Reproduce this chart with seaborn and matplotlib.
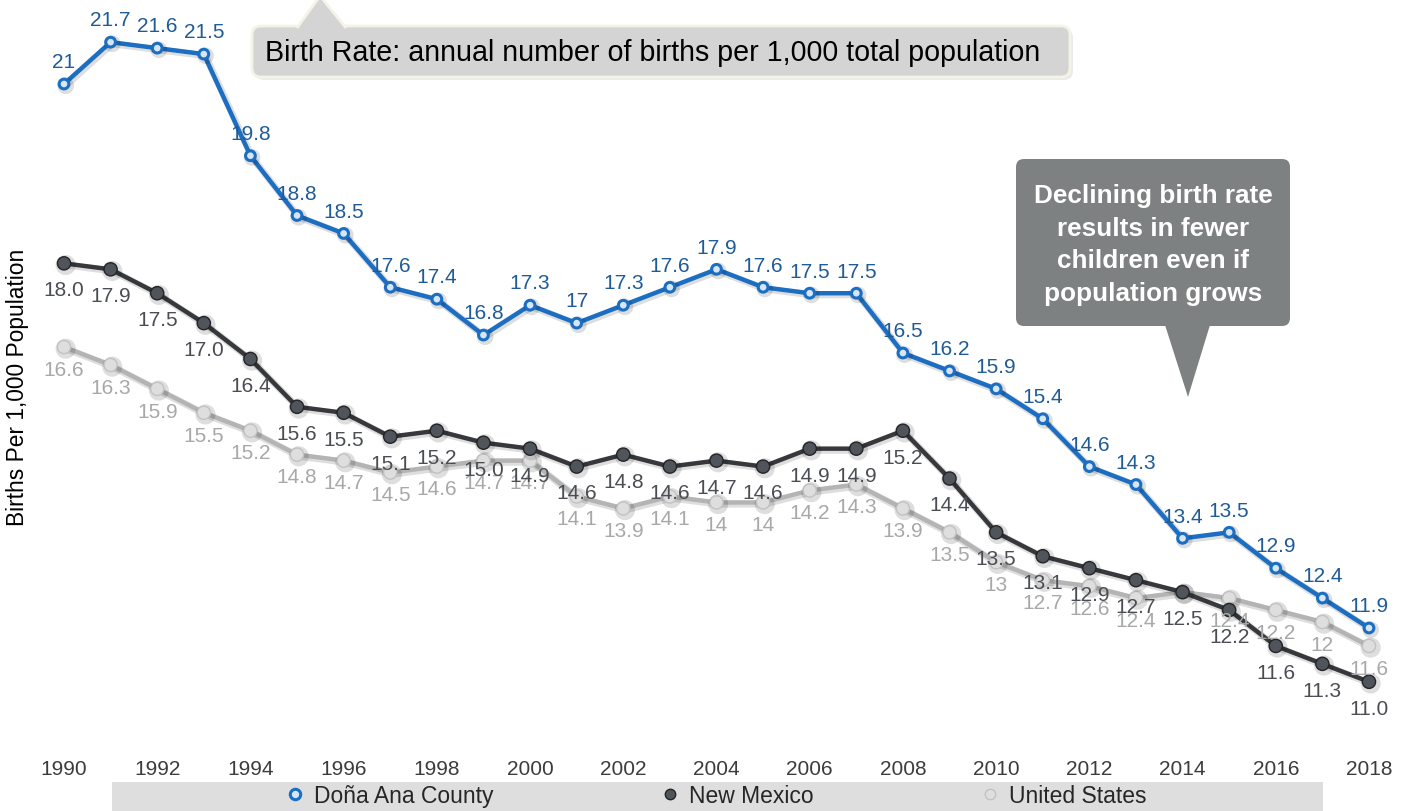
import matplotlib
matplotlib.use("Agg")
import matplotlib.pyplot as plt
import matplotlib.patheffects as pe
from matplotlib.patches import FancyBboxPatch, Polygon, Rectangle
from matplotlib.lines import Line2D
import numpy as np
import pandas as pd
import seaborn as sns

# ---- data -------------------------------------------------------------
years = list(range(1990, 2019))
dona_ana = [21, 21.7, 21.6, 21.5, 19.8, 18.8, 18.5, 17.6, 17.4, 16.8, 17.3, 17,
            17.3, 17.6, 17.9, 17.6, 17.5, 17.5, 16.5, 16.2, 15.9, 15.4, 14.6,
            14.3, 13.4, 13.5, 12.9, 12.4, 11.9]
new_mexico = [18.0, 17.9, 17.5, 17.0, 16.4, 15.6, 15.5, 15.1, 15.2, 15.0, 14.9,
              14.6, 14.8, 14.6, 14.7, 14.6, 14.9, 14.9, 15.2, 14.4, 13.5, 13.1,
              12.9, 12.7, 12.5, 12.2, 11.6, 11.3, 11.0]
united_states = [16.6, 16.3, 15.9, 15.5, 15.2, 14.8, 14.7, 14.5, 14.6, 14.7, 14.7,
                 14.1, 13.9, 14.1, 14, 14, 14.2, 14.3, 13.9, 13.5, 13, 12.7, 12.6,
                 12.4, 12.5, 12.4, 12.2, 12, 11.6]
series_names = ["Doña Ana County", "New Mexico", "United States"]
tick_years = list(range(1990, 2019, 2))
us_unlabeled_years = [2014]

y_title = "Births Per 1,000 Population"
note_top = "Birth Rate: annual number of births per 1,000 total population"
note_side = "Declining birth rate\nresults in fewer\nchildren even if\npopulation grows"

df = pd.DataFrame({
    "year": years * 3,
    "rate": dona_ana + new_mexico + united_states,
    "region": [series_names[0]] * len(years) + [series_names[1]] * len(years)
              + [series_names[2]] * len(years),
})

# ---- styling ----------------------------------------------------------
sns.set_theme(style="white")
plt.rcParams["font.family"] = ["Liberation Sans", "DejaVu Sans"]

W, H = 1414, 812
fig = plt.figure(figsize=(W / 100, H / 100), dpi=100)

# plot area in pixel terms
left_px, right_px, top_px, bottom_px = 40, 1393, 0, 745
ax = fig.add_axes([left_px / W, (H - bottom_px) / H,
                   (right_px - left_px) / W, (bottom_px - top_px) / H])

style = {
    series_names[0]: dict(line="#1b6ec2", mfc="#d6e6f6", mec="#1b6ec2", ms=7.0,
                          mew=2.2, label="#1f5b97", fmt="{:g}", dy=16, z=4),
    series_names[1]: dict(line="#36383c", mfc="#50545b", mec="#222428", ms=9.5,
                          mew=1.0, label="#4a4d53", fmt="{:.1f}", dy=-19, z=3),
    series_names[2]: dict(line="#b4b4b4", mfc="#dedede", mec="#c2c2c2", ms=9.5,
                          mew=1.0, label="#a8a8a8", fmt="{:g}", dy=-16, z=2),
}

shadow = [pe.SimpleLineShadow(offset=(1.2, -1.2), shadow_color="black",
                              alpha=0.13, linewidth=5), pe.Normal()]

for name in series_names[::-1]:
    st = style[name]
    sub = df[df["region"] == name]
    sns.lineplot(data=sub, x="year", y="rate", ax=ax, color=st["line"],
                 linewidth=3.2, marker="o", markersize=st["ms"],
                 markerfacecolor=st["mfc"], markeredgecolor=st["mec"],
                 markeredgewidth=st["mew"], zorder=st["z"], legend=False,
                 path_effects=shadow)

# value labels
for name in series_names[::-1]:
    st = style[name]
    sub = df[df["region"] == name]
    for yr, v in zip(sub["year"], sub["rate"]):
        if name == series_names[2] and yr in us_unlabeled_years:
            continue
        ax.annotate(st["fmt"].format(v), (yr, v), xytext=(0, st["dy"]),
                    textcoords="offset points", ha="center", va="center",
                    fontsize=15, color=st["label"], zorder=st["z"] + 5)

px_per_year = 46.607
x0 = 1990 - (64 - left_px) / px_per_year
x1 = 2018 + (right_px - 1369) / px_per_year
px_per_unit = 59.78
y_top = 21 + (85 - top_px) / px_per_unit
y_bot = 21 - (bottom_px - 85) / px_per_unit
ax.set_xlim(x0, x1)
ax.set_ylim(y_bot, y_top)
ax.set_xticks(tick_years)
ax.set_xticklabels([str(t) for t in tick_years])
ax.set_yticks([])
ax.tick_params(axis="x", length=0, pad=11, labelsize=15, labelcolor="#3c3c3c")
ax.set_xlabel("")
ax.set_ylabel(y_title, fontsize=16.4, color="black")
ax.yaxis.set_label_coords((29 - left_px) / (right_px - left_px), 0.48)
for sp in ax.spines.values():
    sp.set_visible(False)
ax.patch.set_alpha(0)

# ---- overlay in pixel coordinates for the callouts and legend bar ------
ov = fig.add_axes([0, 0, 1, 1], zorder=10)
ov.set_xlim(0, W)
ov.set_ylim(H, 0)
ov.axis("off")
ov.patch.set_alpha(0)

# top callout
ov.add_patch(FancyBboxPatch((255, 30), 818, 51, boxstyle="round,pad=0,rounding_size=9",
                            fc="black", ec="none", alpha=0.08))
ov.add_patch(FancyBboxPatch((252, 27), 818, 51, boxstyle="round,pad=0,rounding_size=9",
                            fc="#d4d4d4", ec="#f4f3e6", lw=2))
ov.add_patch(Polygon([(297, 29), (320, -3), (346, 29)], closed=False,
                     fc="#d4d4d4", ec="#f4f3e6", lw=2))
ov.text(265, 53, note_top, fontsize=20.6, color="black", ha="left", va="center")

# side callout
ov.add_patch(FancyBboxPatch((1016, 160), 274, 167, boxstyle="round,pad=0,rounding_size=8",
                            fc="#7e8181", ec="none"))
ov.add_patch(Polygon([(1165, 326), (1188, 398), (1210, 326)], closed=True,
                     fc="#7e8181", ec="none"))
ov.text(1153, 245, note_side, fontsize=18.8, fontweight="bold", color="white",
        ha="center", va="center", linespacing=1.45)

# legend bar
ov.add_patch(Rectangle((112, 783), 1211, 40, fc="#dedede", ec="none"))
handles = [Line2D([], [], linestyle="none", marker="o", markersize=7.5,
                  markerfacecolor=style[n]["mfc"], markeredgecolor=style[n]["mec"],
                  markeredgewidth=style[n]["mew"]) for n in series_names]
ov.legend(handles, series_names, loc="center", ncol=3, frameon=False,
          bbox_to_anchor=(716 / W, 1 - 797 / H), bbox_transform=fig.transFigure,
          fontsize=16.5, handlelength=0.8, handletextpad=0.42, columnspacing=7.3,
          borderpad=0)

fig.savefig("out.png", dpi=100, facecolor="white")
